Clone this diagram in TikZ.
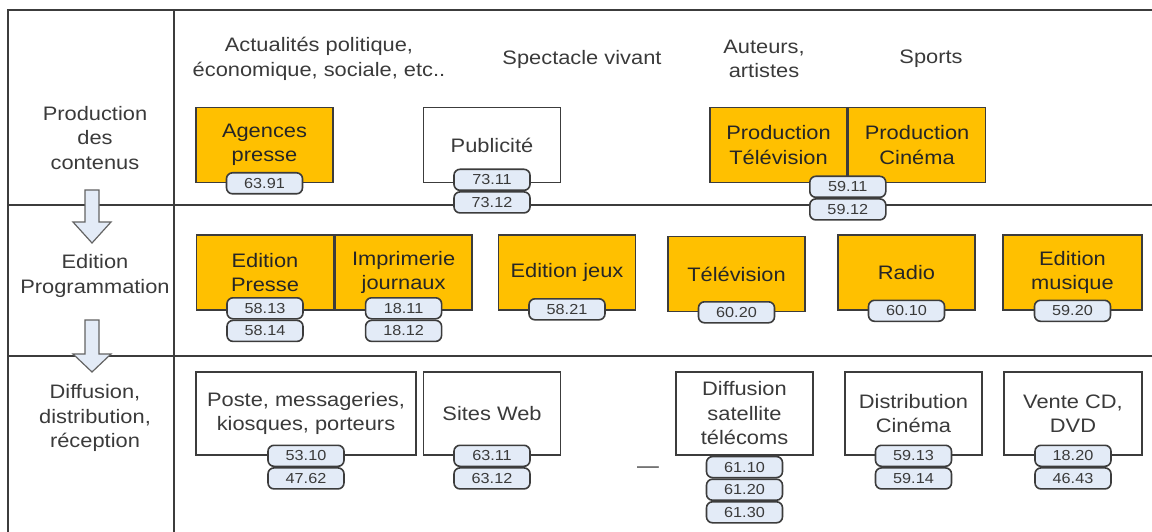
\documentclass[tikz,border=0pt]{standalone}
\usepackage{fontspec}
\setmainfont[FakeStretch=1.12]{Liberation Sans}
\usetikzlibrary{positioning,calc}
\definecolor{secteur}{HTML}{FFC000}
\definecolor{naceblue}{HTML}{E3EBF7}
\definecolor{trait}{HTML}{3C3C3C}
\definecolor{texte}{HTML}{3A3A3A}
\tikzset{
  whitebox/.style={ % activity box, no fill
    draw=trait, line width=1.6pt, fill=white,
    minimum width=137pt, minimum height=75pt,
    align=center, inner sep=2pt, text=texte
  },
  orangebox/.style={ % activity box of the core sector
    whitebox, fill=secteur, text=black!85
  },
  nace/.style={ % rounded tag with a NACE code
    draw=trait, line width=1.6pt, rounded corners=6pt,
    fill=naceblue, minimum width=76pt, minimum height=21pt,
    inner sep=0pt, text=texte, font=\fontsize{14.5}{14.5}\selectfont
  },
  rowlabel/.style={ % text of a row or of a column
    align=center, text=texte, inner sep=0pt
  },
  flowarrow/.style={ % big arrow between two rows
    draw=trait!80, line width=1.2pt, fill=naceblue
  }
}

\begin{document}
\begin{tikzpicture}[x=1pt, y=-1pt, font=\fontsize{19.5}{24.5}\selectfont]
  \useasboundingbox (0,0) rectangle (1152,532);

  % grid
  \draw[trait, line width=1.8pt] (8,532) -- (8,10) -- (1152,10);
  \draw[trait, line width=1.8pt] (174,10) -- (174,532);
  \draw[trait, line width=1.8pt] (8,205) -- (1152,205);
  \draw[trait, line width=1.8pt] (8,356) -- (1152,356);

  % rows
  \node[rowlabel] (lprod) at (95,138) {Production\\des\\contenus};
  \node[rowlabel] (ledit) at (95,276) {Edition\\Programmation};
  \node[rowlabel] (ldiff) at (95,418) {Diffusion,\\distribution,\\réception};
  \foreach \ytop/\yhead/\ytip in {190/222/243, 320/354/372}
    \draw[flowarrow] (85,\ytop) -- (99,\ytop) -- (99,\yhead) -- (111,\yhead)
      -- (92,\ytip) -- (73,\yhead) -- (85,\yhead) -- cycle;

  % columns
  \node[rowlabel] (cat1) at (319,59) {Actualités politique,\\économique, sociale, etc..};
  \node[rowlabel] (cat2) at (582,59) {Spectacle vivant};
  \node[rowlabel] (cat3) at (764,59) {Auteurs,\\artistes};
  \node[rowlabel] (cat4) at (931,59) {Sports};

  % production
  \node[orangebox] (agences) at (264.5,145) {Agences\\presse};
  \node[whitebox] (pub) at (492,145) {Publicité};
  \node[orangebox] (prodtv) at (778.5,145) {Production\\Télévision};
  \node[orangebox, right=0pt of prodtv] (prodcine) {Production\\Cinéma};
  \node[nace] (c6391) at (agences.south) {63.91};
  \node[nace, yshift=3.5pt] (c7311) at (pub.south) {73.11};
  \node[nace, below=0pt of c7311] (c7312) {73.12};
  \node[nace, yshift=-3.5pt] (c5911) at ($(prodtv.south east)!0.5!(prodcine.south west)$) {59.11};
  \node[nace, below=0pt of c5911] (c5912) {59.12};

  % edition
  \node[orangebox] (edpresse) at (265,272.5) {Edition\\Presse};
  \node[orangebox, right=0pt of edpresse] (imprim) {Imprimerie\\journaux};
  \node[orangebox] (edjeux) at (567,272.5) {Edition jeux};
  \node[orangebox] (tele) at (736.5,274) {Télévision};
  \node[orangebox] (radio) at (906.5,272.5) {Radio};
  \node[orangebox, minimum width=139pt] (edmus) at (1072.5,272.5) {Edition\\musique};
  \node[nace, yshift=2.5pt] (c5813) at (edpresse.south) {58.13};
  \node[nace, below=0pt of c5813] (c5814) {58.14};
  \node[nace, yshift=2.5pt] (c1811) at (imprim.south) {18.11};
  \node[nace, below=0pt of c1811] (c1812) {18.12};
  \node[nace, yshift=1.5pt] (c5821) at (edjeux.south) {58.21};
  \node[nace] (c6020) at (tele.south) {60.20};
  \node[nace] (c6010) at (radio.south) {60.10};
  \node[nace] (c5920) at (edmus.south) {59.20};

  % diffusion
  \node[whitebox, minimum width=220pt, minimum height=83pt] (poste) at (306,413.5)
    {Poste, messageries,\\kiosques, porteurs};
  \node[whitebox, minimum height=83pt] (sites) at (492,413.5) {Sites Web};
  \node[whitebox, minimum height=83pt] (diffsat) at (744.5,413.5)
    {Diffusion\\satellite\\télécoms};
  \node[whitebox, minimum height=83pt] (distcine) at (913.5,413.5) {Distribution\\Cinéma};
  \node[whitebox, minimum height=83pt, minimum width=138pt] (vente) at (1073,413.5)
    {Vente CD,\\DVD};
  \node[rowlabel] (dash) at (648,470) {---};
  \node[nace] (c5310) at (poste.south) {53.10};
  \node[nace, below=0pt of c5310] (c4762) {47.62};
  \node[nace] (c6311) at (sites.south) {63.11};
  \node[nace, below=0pt of c6311] (c6312) {63.12};
  \node[nace, below=0pt of diffsat] (c6110) {61.10};
  \node[nace, below=0pt of c6110] (c6120) {61.20};
  \node[nace, below=0pt of c6120] (c6130) {61.30};
  \node[nace] (c5913) at (distcine.south) {59.13};
  \node[nace, below=0pt of c5913] (c5914) {59.14};
  \node[nace] (c1820) at (vente.south) {18.20};
  \node[nace, below=0pt of c1820] (c4643) {46.43};
\end{tikzpicture}
\end{document}
